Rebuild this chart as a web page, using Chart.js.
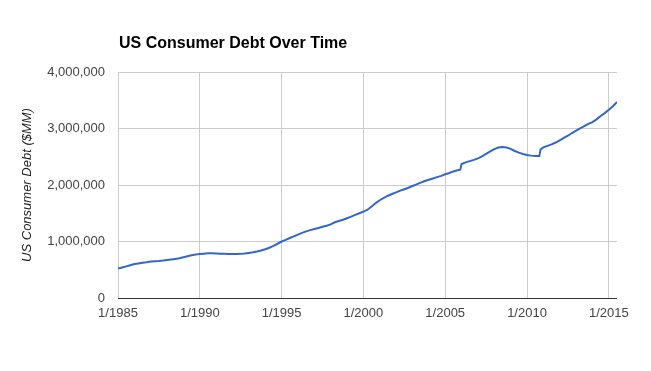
<!DOCTYPE html>
<html>
<head>
<meta charset="utf-8">
<script src="https://cdn.jsdelivr.net/npm/chart.js@4"></script>
<style>
  body { margin: 0; background: #fff; }
  #wrap { width: 651px; height: 371px; }
</style>
</head>
<body>
<div id="wrap"><canvas id="debtChart" width="651" height="371"></canvas></div>
<script>
// quarterly dates (decimal years)
const dates = [
  1985, 1985.25, 1985.5, 1985.75, 1986, 1986.25, 1986.5, 1986.75,
  1987, 1987.25, 1987.5, 1987.75, 1988, 1988.25, 1988.5, 1988.75,
  1989, 1989.25, 1989.5, 1989.75, 1990, 1990.25, 1990.5, 1990.75,
  1991, 1991.25, 1991.5, 1991.75, 1992, 1992.25, 1992.5, 1992.75,
  1993, 1993.25, 1993.5, 1993.75, 1994, 1994.25, 1994.5, 1994.75,
  1995, 1995.25, 1995.5, 1995.75, 1996, 1996.25, 1996.5, 1996.75,
  1997, 1997.25, 1997.5, 1997.75, 1998, 1998.25, 1998.5, 1998.75,
  1999, 1999.25, 1999.5, 1999.75, 2000, 2000.25, 2000.5, 2000.75,
  2001, 2001.25, 2001.5, 2001.75, 2002, 2002.25, 2002.5, 2002.75,
  2003, 2003.25, 2003.5, 2003.75, 2004, 2004.25, 2004.5, 2004.75,
  2005, 2005.25, 2005.5, 2005.75, 2005.92, 2006, 2006.25, 2006.5, 2006.75,
  2007, 2007.25, 2007.5, 2007.75, 2008, 2008.25, 2008.5, 2008.75,
  2009, 2009.25, 2009.5, 2009.75, 2010, 2010.25, 2010.5, 2010.75, 2010.83,
  2011, 2011.25, 2011.5, 2011.75, 2012, 2012.25, 2012.5, 2012.75,
  2013, 2013.25, 2013.5, 2013.75, 2014, 2014.25, 2014.5, 2014.75,
  2015, 2015.25, 2015.5
];

// US consumer debt, $MM
const debt = [
  520000, 540000, 560000, 580000, 600000, 612000, 622000, 632000,
  645000, 650000, 655000, 662000, 672000, 682000, 692000, 702000,
  720000, 738000, 755000, 768000, 778000, 785000, 790000, 790000,
  788000, 785000, 782000, 780000, 779000, 779000, 781000, 788000,
  798000, 808000, 822000, 840000, 862000, 890000, 922000, 960000,
  1000000, 1030000, 1062000, 1092000, 1122000, 1152000, 1180000, 1202000,
  1222000, 1240000, 1260000, 1280000, 1302000, 1340000, 1362000, 1385000,
  1412000, 1440000, 1470000, 1500000, 1530000, 1562000, 1620000, 1680000,
  1730000, 1772000, 1810000, 1840000, 1870000, 1900000, 1925000, 1952000,
  1982000, 2012000, 2042000, 2070000, 2092000, 2115000, 2140000, 2162000,
  2190000, 2212000, 2240000, 2262000, 2272000, 2370000, 2400000, 2422000, 2445000,
  2472000, 2505000, 2550000, 2595000, 2635000, 2662000, 2672000, 2662000,
  2640000, 2602000, 2572000, 2550000, 2532000, 2520000, 2512000, 2512000, 2630000,
  2665000, 2692000, 2720000, 2752000, 2792000, 2832000, 2872000, 2920000,
  2962000, 3002000, 3042000, 3082000, 3112000, 3162000, 3222000, 3272000,
  3330000, 3395000, 3470000
];

const xTicks = [1985, 1990, 1995, 2000, 2005, 2010, 2015];
const yTicks = [0, 1000000, 2000000, 3000000, 4000000];

const titlePlugin = {
  id: 'chartTitle',
  afterDraw(chart) {
    const c = chart.ctx;
    c.save();
    c.font = 'bold 16px Arial, "Liberation Sans", sans-serif';
    c.fillStyle = '#000';
    c.textAlign = 'left';
    c.textBaseline = 'alphabetic';
    c.fillText('US Consumer Debt Over Time', chart.chartArea.left + 1, 48);
    c.restore();
  }
};

const ctx = document.getElementById('debtChart').getContext('2d');
new Chart(ctx, {
  type: 'line',
  data: {
    datasets: [{
      data: dates.map((d, i) => ({ x: d, y: debt[i] })),
      borderColor: '#3366cc',
      borderWidth: 2,
      pointRadius: 0,
      tension: 0,
      fill: false
    }]
  },
  options: {
    responsive: false,
    animation: false,
    layout: { padding: { left: 0, right: 34, top: 72, bottom: 0 } },
    plugins: {
      legend: { display: false },
      tooltip: { enabled: false }
    },
    scales: {
      x: {
        type: 'linear',
        min: 1985,
        max: 2015.5,
        afterBuildTicks: axis => { axis.ticks = xTicks.map(v => ({ value: v })); },
        afterFit: s => { s.height = 73; },
        grid: { color: '#cccccc', drawTicks: false },
        border: { display: false },
        ticks: {
          color: '#444',
          padding: 8,
          maxRotation: 0,
          font: { family: 'Arial, "Liberation Sans", sans-serif', size: 13 },
          callback: v => '1/' + v
        }
      },
      y: {
        min: 0,
        max: 4000000,
        afterBuildTicks: axis => { axis.ticks = yTicks.map(v => ({ value: v })); },
        afterFit: s => { s.width = 118; },
        grid: {
          color: c => c.tick && c.tick.value === 0 ? '#333333' : '#cccccc',
          drawTicks: false
        },
        border: { display: false },
        ticks: {
          color: '#444',
          padding: 13,
          font: { family: 'Arial, "Liberation Sans", sans-serif', size: 13 },
          callback: v => v.toLocaleString('en-US')
        },
        title: {
          display: true,
          text: 'US Consumer Debt ($MM)',
          color: '#222',
          padding: { top: 20, bottom: 0 },
          font: { family: 'Arial, "Liberation Sans", sans-serif', size: 13, style: 'italic' }
        }
      }
    }
  },
  plugins: [titlePlugin]
});
</script>
</body>
</html>
